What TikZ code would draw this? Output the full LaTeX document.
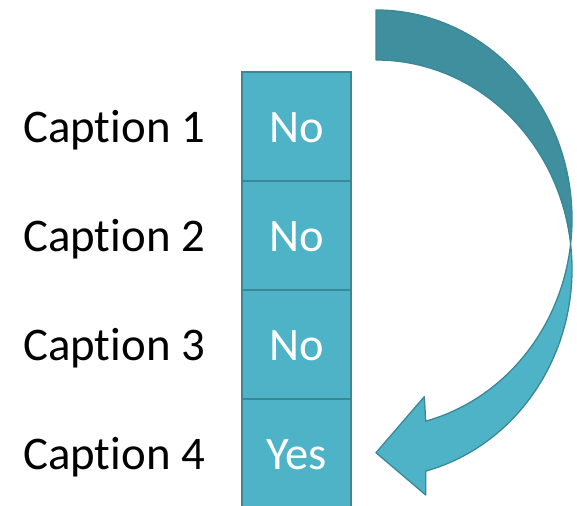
\documentclass[tikz,border=0pt]{standalone}
\usepackage{fontspec}
\setmainfont{Carlito}[Ligatures=NoCommon]
\definecolor{tealLight}{HTML}{4FB3C8}
\definecolor{tealDark}{HTML}{408F9E}
\definecolor{tealLine}{HTML}{3A8896}
\begin{document}
\begin{tikzpicture}[x=1pt,y=1pt,
  cell/.style={draw=tealLine, line width=1.8pt, fill=tealLight, minimum width=109pt, minimum height=109pt,
    inner sep=0pt, text=white, font=\fontsize{46.5}{50}\selectfont, text height=33pt, text depth=0pt},
  caption/.style={anchor=base west, inner sep=0pt, font=\fontsize{46.8}{50}\selectfont, text=black},
  ribbon/.style={draw=tealLine, line width=1.3pt, line join=round}]
\useasboundingbox (0,0) rectangle (577,505);
\clip (0,0) rectangle (577,505);
% column of cells
\node[cell] (c1) at (296.5,378.5) {No};
\node[cell] (c2) at (296.5,269.5) {No};
\node[cell] (c3) at (296.5,160.5) {No};
\node[cell] (c4) at (296.5,51.5) {Yes};
% captions
\node[caption] (k1) at (23,362) {Caption 1};
\node[caption] (k2) at (23,253) {Caption 2};
\node[caption] (k3) at (23,144) {Caption 3};
\node[caption] (k4) at (23,35) {Caption 4};
% curved arrow: back (dark) part
\filldraw[ribbon, fill=tealDark] (376,495) arc[start angle=90, end angle=-6.87, x radius=196, y radius=209]
  arc[start angle=6.87, end angle=90, x radius=196, y radius=209] -- cycle;
% front (light) part with head
\filldraw[ribbon, fill=tealLight] (570.6,261) arc[start angle=-6.87, end angle=-75.31, x radius=196, y radius=209]
  -- (424.3,108.3) -- (376,52.3) -- (425.7,10) -- (425.7,33.9)
  arc[start angle=-75.31, end angle=6.87, x radius=196, y radius=209] -- cycle;
\end{tikzpicture}
\end{document}
